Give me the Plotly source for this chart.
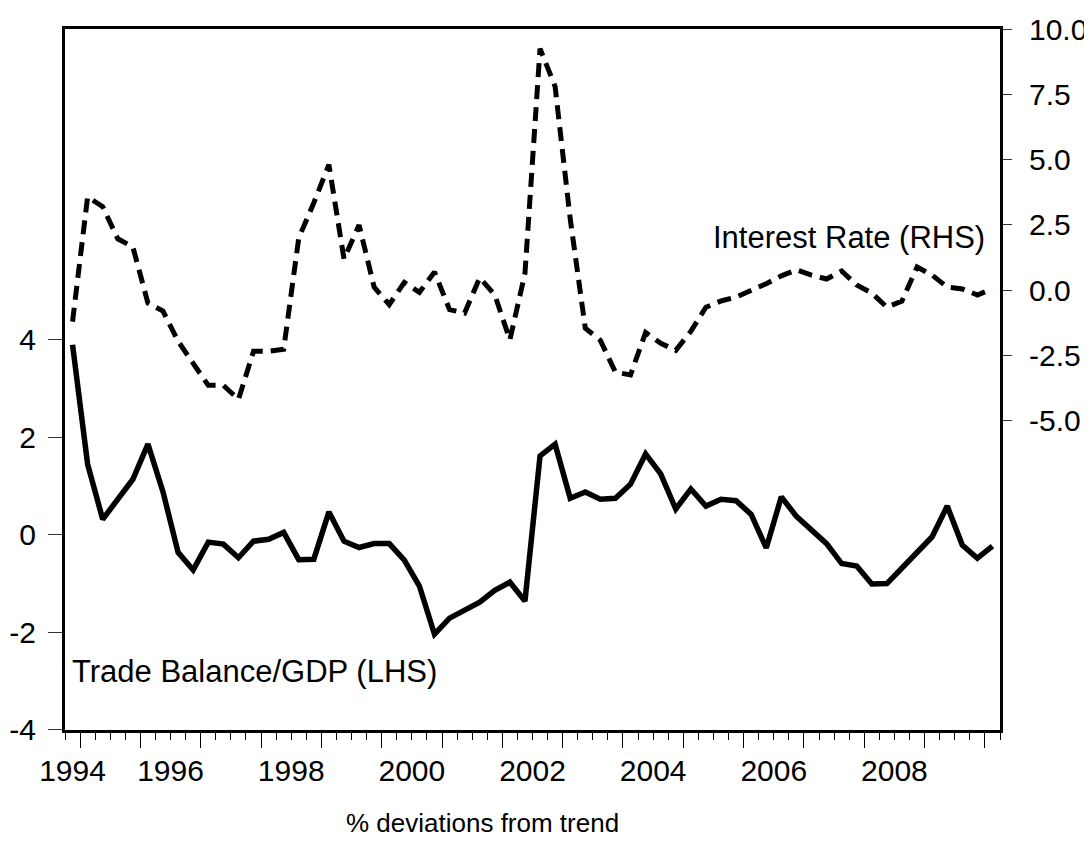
import pandas as pd
import plotly.graph_objects as go

# quarterly observations, 1994Q4 .. 2010Q1
quarters = pd.period_range("1994Q4", "2010Q1", freq="Q")

trade_balance_gdp = [
    3.90, 1.45, 0.32, 0.71, 1.14, 1.86, 0.88, -0.36, -0.72, -0.15,
    -0.19, -0.47, -0.13, -0.09, 0.05, -0.51, -0.50, 0.47, -0.13, -0.26,
    -0.18, -0.18, -0.52, -1.05, -2.04, -1.71, -1.55, -1.38, -1.14, -0.97,
    -1.36, 1.62, 1.86, 0.75, 0.88, 0.73, 0.75, 1.04, 1.66, 1.25,
    0.53, 0.94, 0.59, 0.73, 0.70, 0.42, -0.27, 0.78, 0.38, 0.10,
    -0.18, -0.59, -0.64, -1.01, -1.00, -0.68, -0.34, -0.04, 0.59, -0.21,
    -0.48, -0.23,
]

interest_rate = [
    -1.20, 3.58, 3.20, 1.97, 1.66, -0.49, -0.80, -1.95, -2.80, -3.64,
    -3.64, -4.18, -2.34, -2.34, -2.26, 2.00, 3.35, 4.81, 1.20, 2.50,
    0.12, -0.55, 0.30, -0.08, 0.70, -0.74, -0.87, 0.48, -0.18, -1.90,
    0.65, 9.25, 7.80, 2.74, -1.45, -1.92, -3.14, -3.24, -1.62, -2.03,
    -2.30, -1.57, -0.65, -0.41, -0.26, -0.03, 0.25, 0.55, 0.78, 0.58,
    0.43, 0.74, 0.20, -0.11, -0.65, -0.41, 0.89, 0.58, 0.12, 0.05,
    -0.18, 0.05,
]

year_labels = ["1994", "1996", "1998", "2000", "2002", "2004", "2006", "2008"]
left_ticks = [-4, -2, 0, 2, 4]
right_ticks = [-5.0, -2.5, 0.0, 2.5, 5.0, 7.5, 10.0]

# each observation sits in the middle of its quarter
t = [q.year + (q.quarter - 1) / 4 + 0.125 for q in quarters]
x_range = [t[0] - 0.125, t[-1] + 0.125]
year_starts = list(range(quarters[0].year + 1, quarters[-1].year + 1))
label_pos = [max(int(y) + 0.5, t[0]) for y in year_labels]

FONT = "Liberation Sans, Arial, sans-serif"

fig = go.Figure()
fig.add_trace(go.Scatter(
    x=t, y=trade_balance_gdp, mode="lines", xaxis="x", yaxis="y",
    line=dict(color="black", width=5.5),
    name="Trade Balance/GDP (LHS)",
))
fig.add_trace(go.Scatter(
    x=t, y=interest_rate, mode="lines", xaxis="x", yaxis="y2",
    line=dict(color="black", width=5, dash="14px,8px"),
    name="Interest Rate (RHS)",
))
# carrier for the year-label axis
fig.add_trace(go.Scatter(x=[None], y=[None], xaxis="x2", yaxis="y",
                         showlegend=False, hoverinfo="skip"))

# page body adds an 8px offset, so the figure is 8px smaller than the window
fig.update_layout(
    width=1084, height=854,
    margin=dict(l=57, r=92, t=21, b=132),
    paper_bgcolor="white", plot_bgcolor="white",
    showlegend=False,
    font=dict(family=FONT, size=30, color="black"),
    xaxis=dict(
        range=x_range, showgrid=False, zeroline=False, automargin=False,
        showline=True, linewidth=3, linecolor="black", mirror=True,
        tickmode="array", tickvals=year_starts, showticklabels=False,
        ticks="outside", ticklen=15, tickwidth=1, tickcolor="black",
        minor=dict(tickmode="linear", tick0=x_range[0], dtick=0.25,
                   ticks="outside", ticklen=7, tickwidth=1,
                   tickcolor="black", showgrid=False),
    ),
    xaxis2=dict(
        overlaying="x", anchor="y", side="bottom", range=x_range,
        showgrid=False, zeroline=False, showline=False, automargin=False,
        tickmode="array", tickvals=label_pos, ticktext=year_labels,
        ticks="", ticklabelstandoff=20,
    ),
    yaxis=dict(
        range=[-4.005, 10.38], showgrid=False, zeroline=False,
        automargin=False,
        showline=True, linewidth=3, linecolor="black", mirror=True,
        tickmode="array", tickvals=left_ticks,
        ticktext=[str(v) for v in left_ticks],
        ticks="outside", ticklen=14, tickwidth=1, tickcolor="#333",
        ticklabelstandoff=6,
    ),
    yaxis2=dict(
        overlaying="y", side="right", anchor="x", automargin=False,
        range=[-16.84, 10.005], showgrid=False, zeroline=False,
        showline=True, linewidth=3, linecolor="black",
        tickmode="array", tickvals=right_ticks,
        ticktext=[f"{v:.1f}" for v in right_ticks],
        ticks="outside", ticklen=9, tickwidth=1, tickcolor="#333",
        ticklabelstandoff=11,
    ),
    annotations=[
        dict(text="Interest Rate (RHS)", xref="paper", yref="paper",
             x=0.986, y=0.702, xanchor="right", yanchor="middle",
             showarrow=False, font=dict(size=31)),
        dict(text="Trade Balance/GDP (LHS)", xref="paper", yref="paper",
             x=0.005, y=0.083, xanchor="left", yanchor="middle",
             showarrow=False, font=dict(size=31)),
        dict(text="% deviations from trend", xref="paper", yref="paper",
             x=0.447, y=-0.133, xanchor="center", yanchor="middle",
             showarrow=False, font=dict(size=26)),
    ],
)

fig.write_html("out.html")
